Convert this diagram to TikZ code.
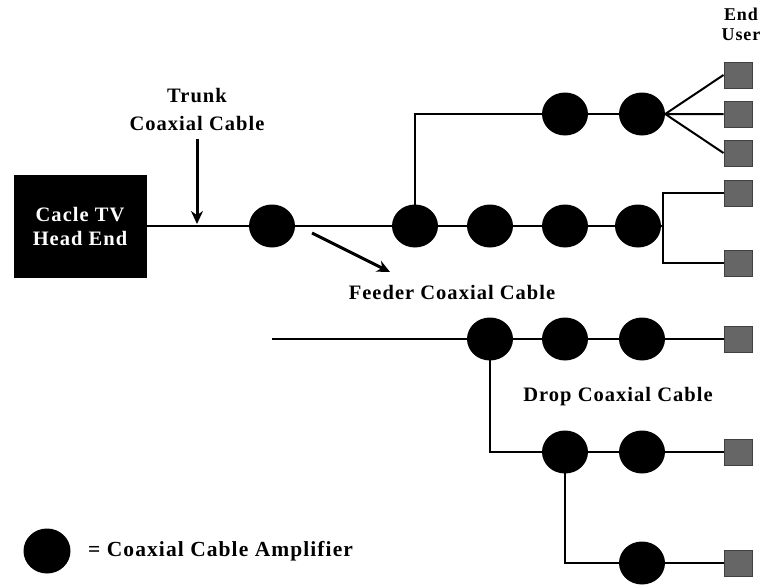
\documentclass[tikz,border=0pt]{standalone}
\usepackage{fontspec}
\setmainfont{Liberation Serif}[LetterSpace=5]
\usetikzlibrary{arrows.meta,shapes.geometric}
\tikzset{
  amp/.style={ellipse,fill=black,minimum width=46pt,minimum height=43pt,inner sep=0pt},
  enduser/.style={rectangle,fill=black!60,draw=black!75,line width=1pt,minimum width=28pt,minimum height=26pt,inner sep=0pt},
  cable/.style={line width=2pt},
  lbl/.style={font=\fontsize{20.5}{24}\selectfont\bfseries,align=center,inner sep=0pt},
  pointer/.style={line width=3pt,-{Stealth[length=13pt,width=12pt]}}
}
\begin{document}
\begin{tikzpicture}[x=1pt,y=-1pt]
\useasboundingbox (0,0) rectangle (761,587);
\node[rectangle,fill=black,minimum width=133pt,minimum height=103pt,inner sep=0pt,lbl,text=white] (head) at (80,226) {Cacle TV\\Head End};
\node[amp] (a1) at (272,226) {};
\node[amp] (b1) at (415,226) {};
\node[amp] (b2) at (490,226) {};
\node[amp] (b3) at (565,226) {};
\node[amp] (b4) at (638,226) {};
\node[amp] (c1) at (565,114) {};
\node[amp] (c2) at (642,114) {};
\node[amp] (d1) at (490,339) {};
\node[amp] (d2) at (565,339) {};
\node[amp] (d3) at (642,339) {};
\node[amp] (e1) at (565,452) {};
\node[amp] (e2) at (642,452) {};
\node[amp] (f1) at (642,563) {};
\node[enduser] (u1) at (738,75) {};
\node[enduser] (u2) at (738,114) {};
\node[enduser] (u3) at (738,153) {};
\node[enduser] (u4) at (738,193) {};
\node[enduser] (u5) at (738,263) {};
\node[enduser] (u6) at (738,339) {};
\node[enduser] (u7) at (738,452) {};
\node[enduser] (u8) at (738,563) {};
\coordinate (split) at (663,226);
\coordinate (feed) at (272,339);
% trunk and feeders
\draw[cable] (head.east) -- (a1) -- (b1) -- (b2) -- (b3) -- (b4) -- (split);
\draw[cable] (b1.center) -- (b1.center |- c1) -- (c1) -- (c2);
\draw[cable] (c2.east) -- (u1.west) (c2.east) -- (u2.west) (c2.east) -- (u3.west);
\draw[cable] (u4.west) -| (split) |- (u5.west);
\draw[cable] (feed) -- (d1) -- (d2) -- (d3) -- (u6);
\draw[cable] (d1.center) |- (e1) -- (e2) -- (u7);
\draw[cable] (e1.center) |- (f1) -- (u8);
% labels
\node[lbl,font=\fontsize{20.5}{28}\selectfont\bfseries] (trunk) at (197,109) {Trunk\\Coaxial Cable};
\coordinate (trunktip) at (197,224);
\draw[pointer] ([yshift=-9pt]trunk.south) -- (trunktip);
\coordinate (feedstart) at (312,233);
\node[lbl] (feeder) at (452,292) {Feeder Coaxial Cable};
\coordinate (feedtip) at (390,272);
\draw[pointer] (feedstart) -- (feedtip);
\node[lbl] (drop) at (618,397) {Drop Coaxial Cable};
\node[lbl,font=\fontsize{18}{20}\selectfont\bfseries] (enduserlbl) at (741,24) {End\\User};
% legend
\node[amp,minimum width=47pt,minimum height=45pt] (legamp) at (47,551) {};
\node[lbl,font=\fontsize{21.5}{24}\selectfont\bfseries,anchor=west] (legtext) at (88,551) {= Coaxial Cable Amplifier};
\end{tikzpicture}
\end{document}
